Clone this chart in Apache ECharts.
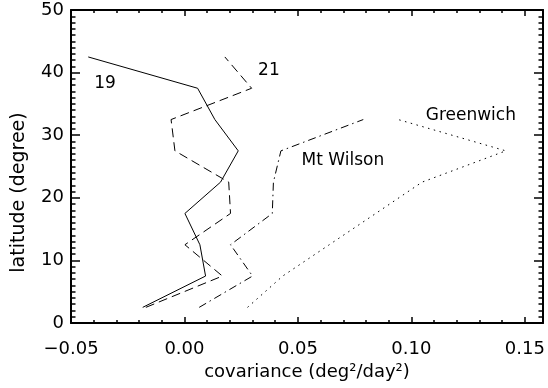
<!DOCTYPE html>
<html>
<head>
<meta charset="utf-8">
<script src="https://cdn.jsdelivr.net/npm/echarts@6/dist/echarts.min.js"></script>
<style>
  html, body { margin: 0; padding: 0; background: #fff; }
  #chart { width: 548px; height: 388px; }
</style>
</head>
<body>
<div id="chart"></div>
<script>
// latitudes des bandes (degrés)
const lat = [2.5, 7.5, 12.5, 17.5, 22.5, 27.5, 32.5, 37.5, 42.5];

// covariance par cycle / observatoire
const cov19 = [-0.0184, 0.0093, 0.0068, 0.0002, 0.0159, 0.0237, 0.0134, 0.0058, -0.0424];
const cov21 = [-0.0170, 0.0167, 0.0002, 0.0203, 0.0195, -0.0042, -0.0059, 0.0296, 0.0178];
const covMtWilson = [0.0065, 0.0300, 0.0203, 0.0387, 0.0392, 0.0425, 0.0788];
const covGreenwich = [0.0278, 0.0433, 0.0638, 0.0843, 0.1047, 0.1416, 0.0942];

// étiquettes posées dans le graphe
const labelNames = ['19', '21', 'Mt Wilson', 'Greenwich'];
const labelX = [-0.035, 0.0372, 0.0698, 0.1262];
const labelY = [38.3, 40.4, 25.9, 33.2];

const xMin = -0.05;
const xMax = 0.158;

const font = 'DejaVu Sans';

function pairs(xs) {
    return xs.map((v, i) => [v, lat[i]]);
}

function fmtX(v) {
    if (Math.abs(v) < 1e-9) return '0.00';
    return (v < 0 ? '\u2212' : '') + Math.abs(v).toFixed(2);
}

function lineSeries(name, xs, dash) {
    return {
        name: name,
        type: 'line',
        data: pairs(xs),
        symbol: 'none',
        lineStyle: { color: '#000', width: 1, type: dash },
        silent: true
    };
}

const xCommon = {
    type: 'value',
    min: xMin,
    max: xMax,
    interval: 0.05,
    axisLine: { onZero: false, lineStyle: { color: '#000', width: 2 } },
    axisTick: { inside: true, length: 6, lineStyle: { color: '#000', width: 1.5 } },
    minorTick: { show: true, splitNumber: 5, length: 3, lineStyle: { color: '#000', width: 1.5 } },
    splitLine: { show: false }
};

const yCommon = {
    type: 'value',
    min: 0,
    max: 50,
    interval: 10,
    axisLine: { onZero: false, lineStyle: { color: '#000', width: 2 } },
    axisTick: { inside: true, length: 9, lineStyle: { color: '#000', width: 1.5 } },
    minorTick: { show: true, splitNumber: 10, length: 4.5, lineStyle: { color: '#000', width: 1.5 } },
    splitLine: { show: false }
};

const chart = echarts.init(document.getElementById('chart'));

const option = {
    animation: false,
    backgroundColor: '#fff',
    grid: { left: 71, right: 5, top: 10, bottom: 65 },
    xAxis: [
        Object.assign({}, xCommon, {
            position: 'bottom',
            name: 'covariance (deg\u00b2/day\u00b2)',
            nameLocation: 'middle',
            nameGap: 39,
            nameTextStyle: { fontFamily: font, fontSize: 18, color: '#000' },
            axisLabel: {
                fontFamily: font, fontSize: 18, color: '#000', margin: 17,
                showMaxLabel: false,
                formatter: fmtX
            }
        }),
        Object.assign({}, xCommon, {
            position: 'top',
            axisLabel: { show: false }
        })
    ],
    yAxis: [
        Object.assign({}, yCommon, {
            position: 'left',
            name: 'latitude (degree)',
            nameLocation: 'middle',
            nameGap: 42,
            nameTextStyle: { fontFamily: font, fontSize: 19, color: '#000', padding: [0, 52, 0, 0] },
            axisLabel: { fontFamily: font, fontSize: 18, color: '#000', margin: 7 }
        }),
        Object.assign({}, yCommon, {
            position: 'right',
            axisLabel: { show: false }
        })
    ],
    series: [
        lineSeries('19', cov19, 'solid'),
        lineSeries('21', cov21, [9, 5]),
        lineSeries('Mt Wilson', covMtWilson, [8, 4, 1.5, 4]),
        lineSeries('Greenwich', covGreenwich, [1.5, 4.5]),
        {
            type: 'scatter',
            symbolSize: 0,
            silent: true,
            itemStyle: { color: '#000', opacity: 1 },
            data: labelNames.map((n, i) => ({ name: n, value: [labelX[i], labelY[i]] })),
            label: {
                show: true,
                position: 'inside',
                formatter: '{b}',
                fontFamily: font,
                fontSize: 17,
                color: '#000',
                textBorderWidth: 0
            }
        }
    ]
};

chart.setOption(option);
</script>
</body>
</html>
